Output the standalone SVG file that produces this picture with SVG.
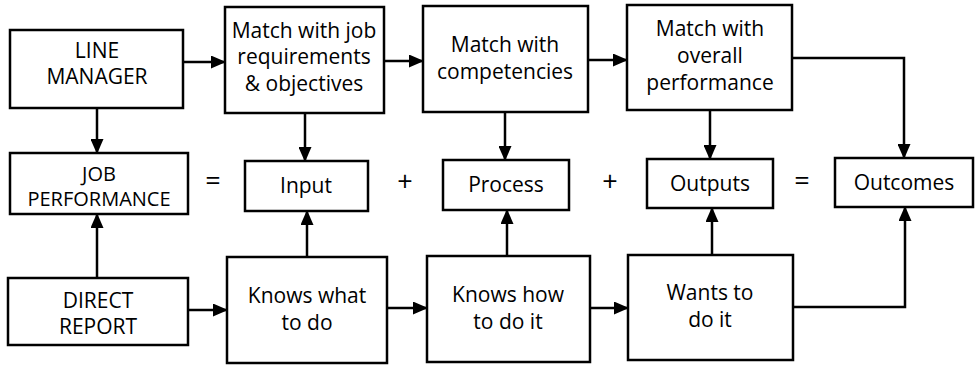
<svg xmlns="http://www.w3.org/2000/svg" width="977" height="367" viewBox="0 0 977 367">
<style>
.box{fill:#fff;stroke:#000;stroke-width:2.5}
.t{font-family:"Open Sans","Liberation Sans",sans-serif;font-size:21px;fill:#000;text-anchor:middle}
.t.s{font-size:20px}
.op{font-family:"Open Sans","Liberation Sans",sans-serif;font-size:27px;fill:#000;text-anchor:middle}
.c{fill:none;stroke:#000;stroke-width:2.5}
</style>
<defs>
<marker id="ah" markerUnits="userSpaceOnUse" markerWidth="15" markerHeight="13" refX="14" refY="6.5" orient="auto">
<path d="M0,0 L15,6.5 L0,13 z" fill="#000"/>
</marker>
</defs>
<g id="connectors">
<line class="c" x1="183" y1="62" x2="225" y2="62" marker-end="url(#ah)"/>
<line class="c" x1="384" y1="61" x2="423" y2="61" marker-end="url(#ah)"/>
<line class="c" x1="588" y1="60" x2="627" y2="60" marker-end="url(#ah)"/>
<path class="c" d="M792,58 H904 V158" marker-end="url(#ah)"/>
<line class="c" x1="97" y1="108" x2="97" y2="153" marker-end="url(#ah)"/>
<line class="c" x1="305" y1="113" x2="305" y2="161" marker-end="url(#ah)"/>
<line class="c" x1="505" y1="112" x2="505" y2="160" marker-end="url(#ah)"/>
<line class="c" x1="710" y1="110" x2="710" y2="159" marker-end="url(#ah)"/>
<line class="c" x1="97" y1="278" x2="97" y2="214" marker-end="url(#ah)"/>
<line class="c" x1="307" y1="257" x2="307" y2="211" marker-end="url(#ah)"/>
<line class="c" x1="507" y1="256" x2="507" y2="210" marker-end="url(#ah)"/>
<line class="c" x1="712" y1="255" x2="712" y2="208" marker-end="url(#ah)"/>
<line class="c" x1="188" y1="310" x2="227" y2="310" marker-end="url(#ah)"/>
<line class="c" x1="387" y1="308" x2="427" y2="308" marker-end="url(#ah)"/>
<line class="c" x1="590" y1="308" x2="628" y2="308" marker-end="url(#ah)"/>
<path class="c" d="M793,307 H905 V207" marker-end="url(#ah)"/>
</g>
<g id="line-manager"><rect class="box" x="10" y="30" width="173" height="78"/><text class="t" x="97" y="58">LINE</text><text class="t" x="97" y="84">MANAGER</text></g>
<g id="match-job"><rect class="box" x="225" y="7" width="159" height="106"/><text class="t" x="304" y="38">Match with job</text><text class="t" x="304" y="64">requirements</text><text class="t" x="304" y="91">&amp; objectives</text></g>
<g id="match-comp"><rect class="box" x="423" y="6" width="165" height="106"/><text class="t" x="505" y="52">Match with</text><text class="t" x="505" y="79">competencies</text></g>
<g id="match-overall"><rect class="box" x="627" y="5" width="165" height="105"/><text class="t" x="710" y="36">Match with</text><text class="t" x="710" y="63">overall</text><text class="t" x="710" y="90">performance</text></g>
<g id="job-performance"><rect class="box" x="10" y="153" width="178" height="61"/><text class="t s" x="99" y="181">JOB</text><text class="t s" x="99" y="206">PERFORMANCE</text></g>
<g id="input"><rect class="box" x="245" y="161" width="123" height="50"/><text class="t" x="306" y="193">Input</text></g>
<g id="process"><rect class="box" x="443" y="160" width="126" height="50"/><text class="t" x="506" y="192">Process</text></g>
<g id="outputs"><rect class="box" x="647" y="159" width="126" height="49"/><text class="t" x="710" y="191">Outputs</text></g>
<g id="outcomes"><rect class="box" x="835" y="158" width="138" height="49"/><text class="t" x="904" y="190">Outcomes</text></g>
<g id="direct-report"><rect class="box" x="8" y="278" width="180" height="67"/><text class="t" x="98" y="308">DIRECT</text><text class="t" x="98" y="334">REPORT</text></g>
<g id="knows-what"><rect class="box" x="227" y="257" width="160" height="106"/><text class="t" x="307" y="303">Knows what</text><text class="t" x="307" y="330">to do</text></g>
<g id="knows-how"><rect class="box" x="427" y="256" width="163" height="106"/><text class="t" x="508" y="302">Knows how</text><text class="t" x="508" y="329">to do it</text></g>
<g id="wants"><rect class="box" x="628" y="255" width="165" height="105"/><text class="t" x="710" y="300">Wants to</text><text class="t" x="710" y="327">do it</text></g>
<g id="operators"><text class="op" x="213" y="190">=</text><text class="op" x="405" y="191">+</text><text class="op" x="610" y="191">+</text><text class="op" x="802" y="190">=</text></g>
</svg>
